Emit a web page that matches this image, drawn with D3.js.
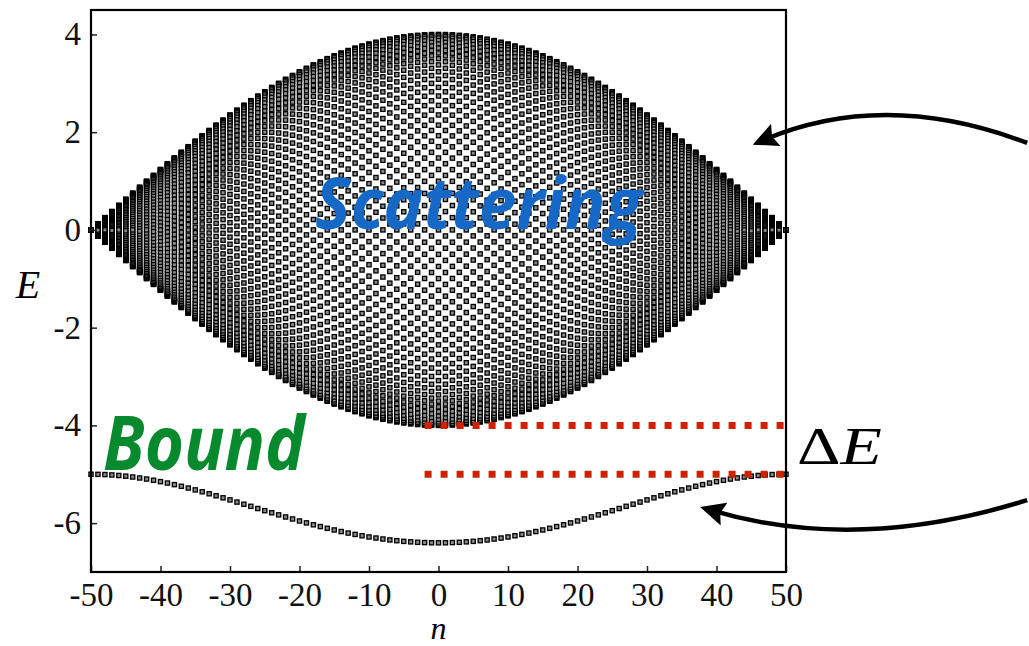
<!DOCTYPE html>
<html>
<head>
<meta charset="utf-8">
<script src="https://cdn.jsdelivr.net/npm/d3@7"></script>
<style>
  body { margin: 0; background: #fff; }
  svg { display: block; }
</style>
</head>
<body>
<div id="chart"></div>
<script>
// band edge |E| for n = 0..50 (mirrored for negative n)
const bandEdge = [4.000, 3.998, 3.992, 3.982, 3.968, 3.951, 3.929, 3.904, 3.874, 3.841,
  3.804, 3.764, 3.719, 3.671, 3.619, 3.564, 3.505, 3.443, 3.377, 3.308,
  3.236, 3.161, 3.082, 3.000, 2.916, 2.828, 2.738, 2.645, 2.550, 2.452,
  2.351, 2.248, 2.143, 2.036, 1.927, 1.816, 1.703, 1.589, 1.472, 1.355,
  1.236, 1.116, 0.995, 0.873, 0.750, 0.626, 0.501, 0.376, 0.251, 0.126, 0.000];

// bound state energy for n = 0..50
const boundEnergy = [-6.403, -6.402, -6.398, -6.392, -6.383, -6.373, -6.359, -6.344, -6.325, -6.305,
  -6.283, -6.258, -6.231, -6.203, -6.172, -6.140, -6.106, -6.071, -6.034, -5.995,
  -5.956, -5.915, -5.874, -5.831, -5.788, -5.745, -5.701, -5.656, -5.613, -5.569,
  -5.525, -5.482, -5.440, -5.399, -5.358, -5.320, -5.282, -5.246, -5.212, -5.180,
  -5.151, -5.123, -5.098, -5.076, -5.056, -5.039, -5.025, -5.014, -5.006, -5.002, -5.000];

// relative level positions inside a column (fraction of band edge), upper half
const levelsEven = [1.000, 0.998, 0.992, 0.982, 0.969, 0.951, 0.930, 0.905, 0.876, 0.844,
  0.809, 0.771, 0.729, 0.685, 0.637, 0.588, 0.536, 0.482, 0.426, 0.368,
  0.309, 0.249, 0.187, 0.125, 0.063, 0.000];
const levelsOdd = [1.000, 0.996, 0.988, 0.976, 0.960, 0.941, 0.918, 0.891, 0.861, 0.827,
  0.790, 0.750, 0.707, 0.661, 0.613, 0.562, 0.509, 0.454, 0.397, 0.339,
  0.279, 0.218, 0.156, 0.094, 0.031];

const nValues = d3.range(-50, 51);
const xTicks = [-50, -40, -30, -20, -10, 0, 10, 20, 30, 40, 50];
const yTicks = [-6, -4, -2, 0, 2, 4];
const gapLines = [-4, -5];      // red dotted lines (Delta E)
const gapStartN = -2;

// arrows: [start, control, end] in (n, E)
const arrows = [
  [[84.7, 1.78], [64.2, 2.89], [46.8, 1.84]],
  [[84.7, -5.53], [60.2, -6.62], [39.3, -5.74]]
];

const width = 1029, height = 646;
const plot = { left: 91, right: 786, top: 10, bottom: 572 };

const svg = d3.select('#chart').append('svg')
  .attr('width', width)
  .attr('height', height);

const x = d3.scaleLinear().domain([-50, 50]).range([plot.left, plot.right]);
const y = d3.scaleLinear().domain([-7, 4.5]).range([plot.bottom, plot.top]);

// scattering states
const scatter = [];
nValues.forEach(n => {
  const edge = bandEdge[Math.abs(n)];
  const lv = (Math.abs(n) % 2 === 0) ? levelsEven : levelsOdd;
  lv.forEach(f => {
    scatter.push({ n: n, E: edge * f });
    if (f > 0) scatter.push({ n: n, E: -edge * f });
  });
});

const bound = nValues.map(n => ({ n: n, E: boundEnergy[Math.abs(n)] }));

const s = 4.2;
svg.append('g').selectAll('rect')
  .data(scatter.concat(bound))
  .enter().append('rect')
  .attr('x', d => x(d.n) - s / 2)
  .attr('y', d => y(d.E) - s / 2)
  .attr('width', s)
  .attr('height', s)
  .attr('fill', '#8a8a8a')
  .attr('stroke', '#000')
  .attr('stroke-width', 1.3);

// axes (inward ticks)
const fontTicks = "'Liberation Serif', 'DejaVu Serif', serif";
const xAxis = svg.append('g')
  .attr('transform', `translate(0,${plot.bottom})`)
  .call(d3.axisBottom(x).tickValues(xTicks).tickFormat(d => String(d))
    .tickSizeInner(-6).tickSizeOuter(0).tickPadding(11));
const yAxis = svg.append('g')
  .attr('transform', `translate(${plot.left},0)`)
  .call(d3.axisLeft(y).tickValues(yTicks).tickFormat(d => String(d))
    .tickSizeInner(-6).tickSizeOuter(0).tickPadding(10));

[xAxis, yAxis].forEach(g => {
  g.select('.domain').remove();
  g.selectAll('.tick line').attr('stroke', '#222').attr('stroke-width', 1.5);
  g.selectAll('.tick text')
    .attr('fill', '#111')
    .style('font-family', fontTicks)
    .style('font-size', '33px');
});

// frame
svg.append('rect')
  .attr('x', plot.left).attr('y', plot.top)
  .attr('width', plot.right - plot.left).attr('height', plot.bottom - plot.top)
  .attr('fill', 'none')
  .attr('stroke', '#000')
  .attr('stroke-width', 2.2);

// axis labels
svg.append('text')
  .attr('x', 28).attr('y', 298)
  .attr('text-anchor', 'middle')
  .style('font-family', fontTicks)
  .style('font-style', 'italic')
  .style('font-size', '40px')
  .text('E');
svg.append('text')
  .attr('x', x(0)).attr('y', 639)
  .attr('text-anchor', 'middle')
  .style('font-family', fontTicks)
  .style('font-style', 'italic')
  .style('font-size', '32px')
  .text('n');

// Delta E dotted lines
svg.append('g').selectAll('line')
  .data(gapLines)
  .enter().append('line')
  .attr('x1', x(gapStartN))
  .attr('x2', x(50))
  .attr('y1', d => y(d))
  .attr('y2', d => y(d))
  .attr('stroke', '#cc2200')
  .attr('stroke-width', 7)
  .attr('stroke-dasharray', '7 9');

// labels
svg.append('text')
  .attr('x', 315).attr('y', 229)
  .attr('textLength', 327)
  .attr('lengthAdjust', 'spacingAndGlyphs')
  .attr('fill', '#1668c6')
  .style('font-family', "'Open Sans', sans-serif")
  .style('font-style', 'italic')
  .style('font-weight', 700)
  .style('font-size', '72px')
  .text('Scattering');

svg.append('text')
  .attr('x', 103).attr('y', 470)
  .attr('textLength', 202)
  .attr('lengthAdjust', 'spacingAndGlyphs')
  .attr('fill', '#078a2e')
  .style('font-family', "'Open Sans', sans-serif")
  .style('font-style', 'italic')
  .style('font-weight', 700)
  .style('font-size', '76px')
  .text('Bound');

const de = svg.append('text')
  .attr('x', 797).attr('y', 464)
  .attr('textLength', 85)
  .attr('lengthAdjust', 'spacingAndGlyphs')
  .style('font-family', fontTicks)
  .style('font-size', '52px');
de.append('tspan').text('\u0394');
de.append('tspan').style('font-style', 'italic').text('E');

// arrows
svg.append('defs').append('marker')
  .attr('id', 'head')
  .attr('markerUnits', 'userSpaceOnUse')
  .attr('viewBox', '0 0 25 24')
  .attr('markerWidth', 25)
  .attr('markerHeight', 24)
  .attr('refX', 13)
  .attr('refY', 12)
  .attr('orient', 'auto')
  .append('path')
  .attr('d', 'M0,0 L25,12 L0,24 L4,12 Z')
  .attr('fill', '#000');

arrows.forEach(a => {
  const p = d3.path();
  p.moveTo(x(a[0][0]), y(a[0][1]));
  p.quadraticCurveTo(x(a[1][0]), y(a[1][1]), x(a[2][0]), y(a[2][1]));
  svg.append('path')
    .attr('d', p.toString())
    .attr('fill', 'none')
    .attr('stroke', '#000')
    .attr('stroke-width', 4.5)
    .attr('marker-end', 'url(#head)');
});
</script>
</body>
</html>
